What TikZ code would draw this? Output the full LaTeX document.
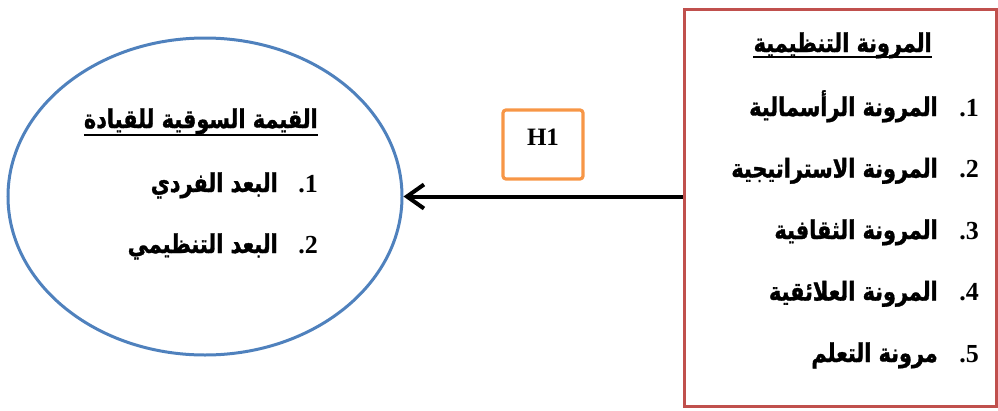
\documentclass[tikz,border=0pt]{standalone}
\usepackage{fontspec}
\setmainfont{Liberation Serif}
\newfontfamily\arabicfont[Script=Arabic, FakeStretch=0.8, FakeBold=1.2]{DejaVu Sans}
\TeXXeTstate=1
\usetikzlibrary{arrows.meta,shapes.geometric}
\definecolor{boxred}{HTML}{C0504D}
\definecolor{ovalblue}{HTML}{4F81BD}
\definecolor{hypo}{HTML}{F79646}

\begin{document}
\begin{tikzpicture}[x=1pt,y=-1pt,
  artext/.style={font=\arabicfont\bfseries\fontsize{26}{30}\selectfont, inner sep=0pt, anchor=base east},
  numtext/.style={font=\bfseries\fontsize{26}{30}\selectfont, inner sep=0pt, anchor=base east},
  uline/.style={line width=1.5pt},
]
\useasboundingbox (0,0) rectangle (998,410);

% Independent construct: organisational flexibility
\node[draw=boxred, line width=3.2pt, minimum width=312pt, minimum height=397pt,
      anchor=north west, inner sep=0pt] (flex) at (683,8) {};
% Dependent construct: market value of leadership
\node[draw=ovalblue, ellipse, line width=3pt, minimum width=394pt,
      minimum height=317pt, inner sep=0pt] (value) at (205,196.5) {};

% Hypothesis path
\draw[line width=4pt, -{Straight Barb[length=17pt,width=24pt,line width=4pt]}]
  (flex.west |- value.east) -- (value.east);
\node[draw=hypo, line width=3.2pt, rounded corners=3pt, minimum width=80pt,
      font=\bfseries\fontsize{25}{30}\selectfont, inner ysep=2pt,
      text height=33pt, text depth=32pt, anchor=base] (h1) at (543,145) {H1};

% Items of organisational flexibility
\node[artext] (ft) at (932,52) {\beginR المرونة التنظيمية\endR};
\draw[uline] ([yshift=-5pt]ft.base west) -- ([yshift=-5pt]ft.base east);
\node[numtext] (fn1) at (979,116)   {.1};
\node[numtext] (fn2) at (979,177.5) {.2};
\node[numtext] (fn3) at (979,239)   {.3};
\node[numtext] (fn4) at (979,300.5) {.4};
\node[numtext] (fn5) at (979,362)   {.5};
\node[artext] (f1) at (938,116)   {\beginR المرونة الرأسمالية\endR};
\node[artext] (f2) at (938,177.5) {\beginR المرونة الاستراتيجية\endR};
\node[artext] (f3) at (938,239)   {\beginR المرونة الثقافية\endR};
\node[artext] (f4) at (938,300.5) {\beginR المرونة العلائقية\endR};
\node[artext] (f5) at (938,362)   {\beginR مرونة التعلم\endR};

% Dimensions of market value of leadership
\node[artext] (vt) at (318,128) {\beginR القيمة السوقية للقيادة\endR};
\draw[uline] ([yshift=-7pt]vt.base west) -- ([yshift=-7pt]vt.base east);
\node[numtext] (vn1) at (318,192) {.1};
\node[numtext] (vn2) at (318,253) {.2};
\node[artext] (v1) at (278,192) {\beginR البعد الفردي\endR};
\node[artext] (v2) at (278,253) {\beginR البعد التنظيمي\endR};
\end{tikzpicture}
\end{document}
